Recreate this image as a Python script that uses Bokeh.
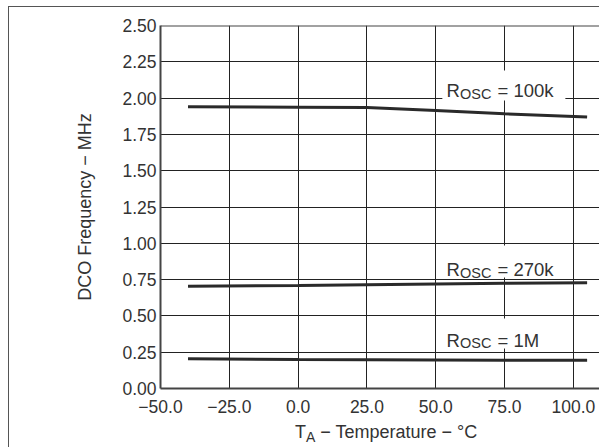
from bokeh.plotting import figure
from bokeh.models import FixedTicker, Span, Div
from bokeh.layouts import column
from bokeh.core.properties import value
from bokeh.embed import file_html
from bokeh.resources import INLINE

# ---- data ----
temps = [-40, 0, 25, 50, 75, 105]
f_100k = [1.94, 1.937, 1.935, 1.915, 1.892, 1.87]
f_270k = [0.705, 0.71, 0.715, 0.72, 0.725, 0.728]
f_1m = [0.205, 0.200, 0.198, 0.196, 0.195, 0.195]

series_names = ["100k", "270k", "1M"]

x_ticks = [-50, -25, 0, 25, 50, 75, 100]
x_tick_labels = ["\u221250.0", "\u221225.0", "0.0", "25.0", "50.0", "75.0", "100.0"]
y_ticks = [0.0, 0.25, 0.5, 0.75, 1.0, 1.25, 1.5, 1.75, 2.0, 2.25, 2.5]
y_tick_labels = ["0.00", "0.25", "0.50", "0.75", "1.00", "1.25", "1.50", "1.75", "2.00", "2.25", "2.50"]

x_title_main = "T"
x_title_sub = "A"
x_title_rest = " \u2212 Temperature \u2212 \u00b0C"

FONT = "Liberation Sans"
TXT = "#333333"
INK = "#222222"

p = figure(width=599, height=420, output_backend="svg", toolbar_location=None,
           x_range=(-50, 109.5), y_range=(0, 2.5),
           min_border_left=160, min_border_right=0, min_border_top=25, min_border_bottom=32)
p.margin = (0, 0, 0, 0)
p.outline_line_color = None
p.background_fill_color = "white"
p.border_fill_color = "white"

# axes
for ax in (p.xaxis[0], p.yaxis[0]):
    ax.axis_line_color = "#444444"
    ax.axis_line_width = 2
    ax.major_tick_line_color = None
    ax.minor_tick_line_color = None
    ax.major_tick_out = 0
    ax.major_tick_in = 0
    ax.minor_tick_out = 0
    ax.minor_tick_in = 0
    ax.major_label_text_font = FONT
    ax.major_label_text_font_size = "17.5px"
    ax.major_label_text_color = TXT

p.xaxis.ticker = FixedTicker(ticks=x_ticks)
p.xaxis.major_label_overrides = {float(t): s for t, s in zip(x_ticks, x_tick_labels)}
p.xaxis.major_label_standoff = 11
p.yaxis.ticker = FixedTicker(ticks=y_ticks)
p.yaxis.major_label_overrides = {float(t): s for t, s in zip(y_ticks, y_tick_labels)}
p.yaxis.major_label_standoff = 4
p.yaxis.axis_label = "DCO Frequency \u2212 MHz"
p.yaxis.axis_label_text_font = FONT
p.yaxis.axis_label_text_font_size = "18px"
p.yaxis.axis_label_text_font_style = "normal"
p.yaxis.axis_label_text_color = TXT
p.yaxis.axis_label_standoff = 24

# grid
p.xgrid.ticker = FixedTicker(ticks=x_ticks)
p.ygrid.ticker = FixedTicker(ticks=y_ticks)
for g in (p.xgrid[0], p.ygrid[0]):
    g.grid_line_color = INK
    g.grid_line_width = 1
    g.grid_line_alpha = 1.0

# top frame line
p.add_layout(Span(location=2.5, dimension="width", line_color="#444444", line_width=2))

# data lines
for ys in (f_100k, f_270k, f_1m):
    p.line(temps, ys, line_color="#2a2a2a", line_width=3)

# label boxes + text
box_left, box_right = 52.4, 97.1
box_tops = [2.19, 0.985, 0.482]
box_bottoms = [1.983, 0.764, 0.275]
p.quad(left=[box_left] * 3, right=[box_right] * 3, top=box_tops, bottom=box_bottoms,
       fill_color="white", line_color=None)

lab_x = [53.9] * 3
lab_y = [2.052, 0.817, 0.331]
p.text(x=lab_x, y=lab_y, text=["R"] * 3, text_font=value(FONT), text_font_size="18.5px",
       text_color=TXT, text_baseline="alphabetic", text_align="left")
p.text(x=lab_x, y=lab_y, text=["OSC"] * 3, x_offset=13.5, y_offset=3, text_font=value(FONT),
       text_font_size="14.5px", text_color=TXT, text_baseline="alphabetic", text_align="left")
p.text(x=lab_x, y=lab_y, text=["= " + s for s in series_names], x_offset=51,
       text_font=value(FONT), text_font_size="18.5px", text_color=TXT,
       text_baseline="alphabetic", text_align="left")

# x-axis title (with subscript) and the page border, as HTML below the plot
title_html = (
    '<div style="position:relative;width:599px;height:27px;">'
    '<span style="position:absolute;left:295px;top:2px;white-space:nowrap;'
    "font-family:'Liberation Sans',Arial,sans-serif;font-size:18px;color:#333333;line-height:normal;\">"
    + x_title_main
    + '<sub style="font-size:14px;vertical-align:-4px;line-height:0;">' + x_title_sub + '</sub>'
    + x_title_rest.replace(" ", "&nbsp;", 1)
    + '</span>'
    '<div style="position:fixed;left:8px;top:6px;width:591px;height:441px;box-sizing:border-box;'
    'border-top:1.3px solid #555555;border-left:1.3px solid #555555;pointer-events:none;"></div>'
    '</div>'
)
title_div = Div(text=title_html, width=599, height=27, margin=(0, 0, 0, 0))

layout = column(p, title_div, spacing=0, margin=(0, 0, 0, 0))

open("out.html", "w").write(file_html(layout, INLINE))
